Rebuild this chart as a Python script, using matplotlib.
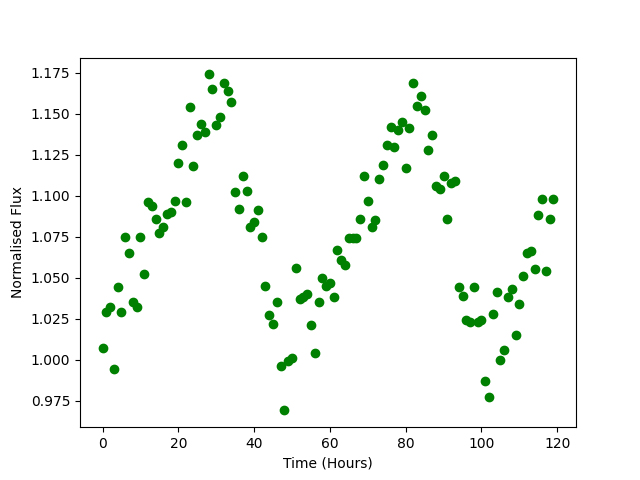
import numpy as np
import matplotlib
matplotlib.use("Agg")
import matplotlib.pyplot as plt
from matplotlib.ticker import MultipleLocator, FormatStrFormatter

# hourly samples, 0..119
hours = np.arange(120)

flux = [
    1.007, 1.029, 1.032, 0.994, 1.044, 1.029, 1.075, 1.065, 1.035, 1.032,
    1.075, 1.052, 1.096, 1.094, 1.086, 1.077, 1.081, 1.089, 1.090, 1.097,
    1.120, 1.131, 1.096, 1.154, 1.118, 1.137, 1.144, 1.139, 1.174, 1.165,
    1.143, 1.148, 1.169, 1.164, 1.157, 1.102, 1.092, 1.112, 1.103, 1.081,
    1.084, 1.091, 1.075, 1.045, 1.027, 1.022, 1.035, 0.996, 0.969, 0.999,
    1.001, 1.056, 1.037, 1.038, 1.040, 1.021, 1.004, 1.035, 1.050, 1.045,
    1.047, 1.038, 1.067, 1.061, 1.058, 1.074, 1.074, 1.074, 1.086, 1.112,
    1.097, 1.081, 1.085, 1.110, 1.119, 1.131, 1.142, 1.130, 1.140, 1.145,
    1.117, 1.141, 1.169, 1.155, 1.161, 1.152, 1.128, 1.137, 1.106, 1.104,
    1.112, 1.086, 1.108, 1.109, 1.044, 1.039, 1.024, 1.023, 1.044, 1.023,
    1.024, 0.987, 0.977, 1.028, 1.041, 1.000, 1.006, 1.038, 1.043, 1.015,
    1.034, 1.051, 1.065, 1.066, 1.055, 1.088, 1.098, 1.054, 1.086, 1.098,
]

fig, ax = plt.subplots(figsize=(6.4, 4.8), dpi=100)
ax.plot(hours, flux, "go")
ax.set_xlabel("Time (Hours)")
ax.set_ylabel("Normalised Flux")
# reference uses finer y ticks than the default locator picks
ax.yaxis.set_major_locator(MultipleLocator(0.025))
ax.yaxis.set_major_formatter(FormatStrFormatter("%.3f"))
plt.savefig("out.png", dpi=100)
plt.close(fig)
